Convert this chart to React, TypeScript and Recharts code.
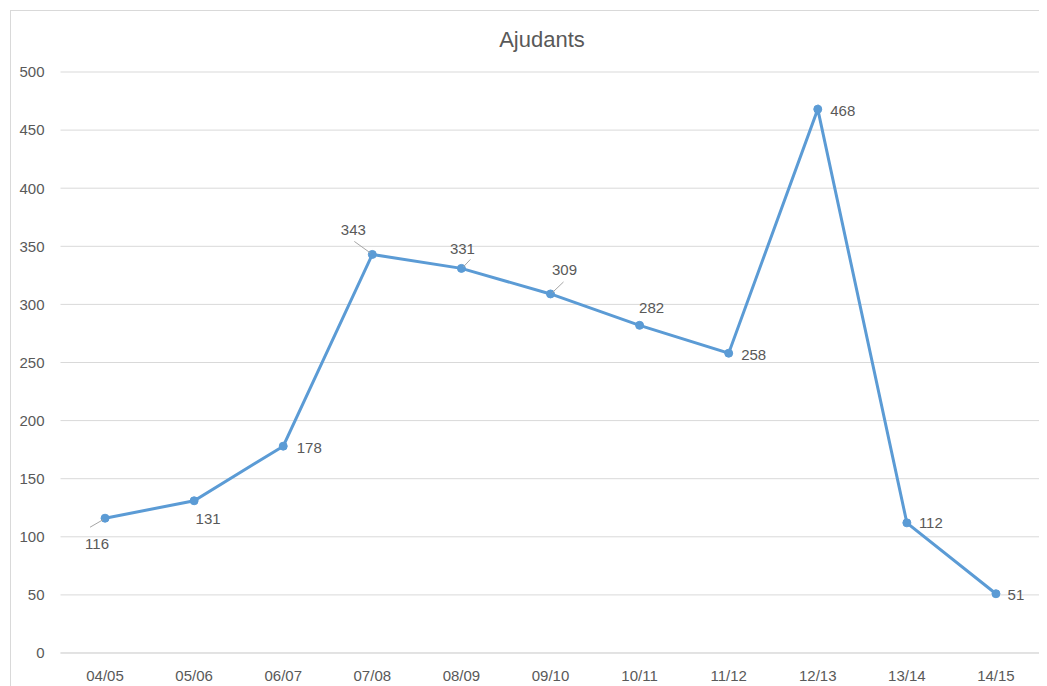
import React from "react";
import { LineChart, Line, XAxis, YAxis, CartesianGrid, LabelList } from "recharts";

const seasons = ["04/05", "05/06", "06/07", "07/08", "08/09", "09/10", "10/11", "11/12", "12/13", "13/14", "14/15"];
const ajudants = [116, 131, 178, 343, 331, 309, 282, 258, 468, 112, 51];
const yTicks = [0, 50, 100, 150, 200, 250, 300, 350, 400, 450, 500];

const data = seasons.map((s, i) => ({ season: s, value: ajudants[i] }));

// label placement (style config): text offset and optional leader line end
const labelPlacement: { dx: number; dy: number; lx?: number; ly?: number }[] = [
  { dx: -8, dy: 25, lx: -15, ly: 9 },
  { dx: 14, dy: 18 },
  { dx: 26, dy: 1 },
  { dx: -19, dy: -25, lx: -18, ly: -13 },
  { dx: 1, dy: -20, lx: 9, ly: -9 },
  { dx: 14, dy: -24, lx: 13, ly: -12 },
  { dx: 12, dy: -18 },
  { dx: 25, dy: 1 },
  { dx: 25, dy: 1 },
  { dx: 24, dy: 0 },
  { dx: 20, dy: 1 },
];

const FONT = "'Liberation Sans', Arial, sans-serif";
const TEXT = "#595959";

const renderLabel = (props: any) => {
  const { x, y, value, index } = props;
  const p = labelPlacement[index] || { dx: 0, dy: -15 };
  return (
    <g>
      {p.lx !== undefined && (
        <line
          x1={x + p.lx}
          y1={y + (p.ly as number)}
          x2={x + Math.sign(p.lx) * 2}
          y2={y + Math.sign(p.ly as number) * 1.5}
          stroke="#a6a6a6"
          strokeWidth={1}
        />
      )}
      <text
        x={x + p.dx}
        y={y + p.dy}
        textAnchor="middle"
        dominantBaseline="central"
        fontSize={15}
        fontFamily={FONT}
        fill={TEXT}
      >
        {value}
      </text>
    </g>
  );
};

export default function App() {
  return (
    <div style={{ padding: "2px 0 0 2px" }}>
      <div
        style={{
          position: "relative",
          width: 1060,
          height: 690,
          border: "1px solid #d9d9d9",
          background: "#fff",
        }}
      >
        <div
          style={{
            position: "absolute",
            left: 0,
            top: 18,
            width: 1062,
            textAlign: "center",
            fontFamily: FONT,
            fontSize: 22,
            lineHeight: "22px",
            color: TEXT,
            zIndex: 2,
          }}
        >
          Ajudants
        </div>
        <LineChart
          width={1045}
          height={680}
          data={data}
          margin={{ top: 61, right: 15.5, left: 0, bottom: 0 }}
        >
          <CartesianGrid vertical={false} stroke="#d9d9d9" />
          <XAxis
            dataKey="season"
            height={38}
            padding={{ left: 44.55, right: 44.55 }}
            tickLine={false}
            axisLine={{ stroke: "#d9d9d9" }}
            tickSize={0}
            tickMargin={17}
            tick={{ fontSize: 15, fontFamily: FONT, fill: TEXT }}
            interval={0}
          />
          <YAxis
            width={49.5}
            domain={[0, 500]}
            ticks={yTicks}
            tickLine={false}
            axisLine={false}
            tickSize={0}
            tickMargin={16}
            tick={{ fontSize: 15, fontFamily: FONT, fill: TEXT }}
          />
          <Line
            type="linear"
            dataKey="value"
            stroke="#5b9bd5"
            strokeWidth={3}
            dot={{ r: 4, fill: "#5b9bd5", stroke: "#5b9bd5", strokeWidth: 1 }}
            activeDot={false}
            isAnimationActive={false}
          >
            <LabelList dataKey="value" content={renderLabel} />
          </Line>
        </LineChart>
      </div>
    </div>
  );
}
